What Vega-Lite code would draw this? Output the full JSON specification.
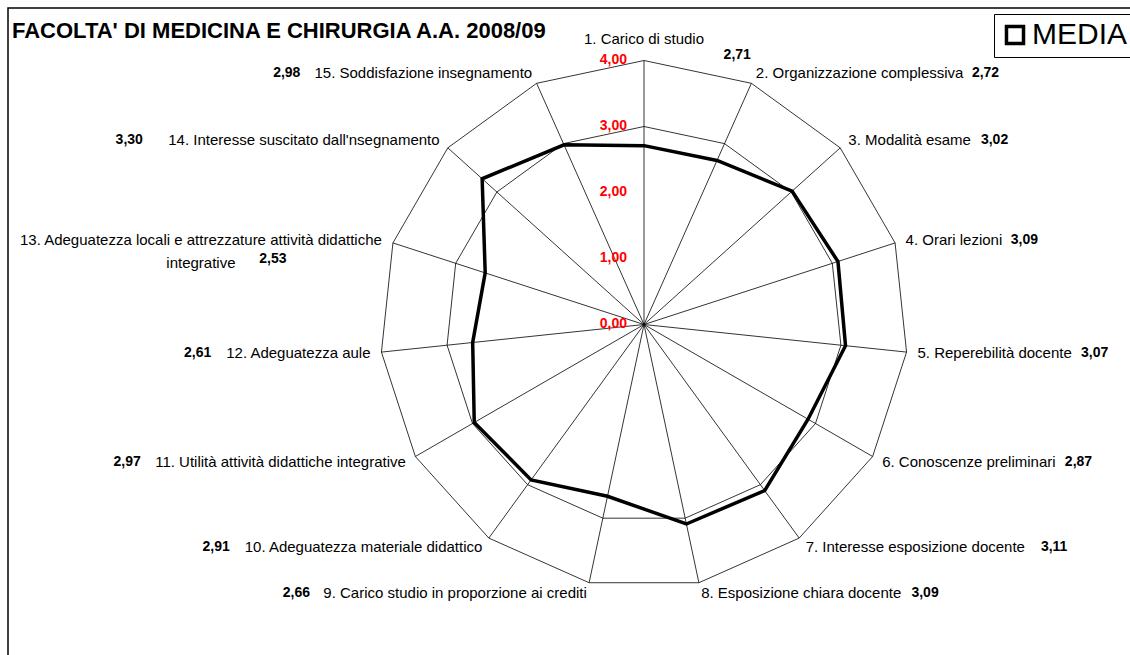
{
  "$schema": "https://vega.github.io/schema/vega-lite/v6.json",
  "width": 1130,
  "height": 660,
  "autosize": {"type": "none"},
  "padding": {"left": 8, "top": 8, "right": 0, "bottom": 0},
  "background": "white",
  "title": {
    "text": "FACOLTA' DI MEDICINA E CHIRURGIA A.A. 2008/09",
    "anchor": "start",
    "frame": "group",
    "font": "Liberation Sans",
    "fontSize": 22,
    "fontWeight": "bold",
    "color": "black",
    "offset": 0,
    "dx": 4,
    "dy": 52,
    "baseline": "alphabetic"
  },
  "config": {
    "view": {"stroke": "black", "strokeWidth": 1.5},
    "font": "Liberation Sans"
  },
  "data": {
    "values": [
      {"i": 1, "label": "1. Carico di studio", "value": 2.71},
      {"i": 2, "label": "2. Organizzazione complessiva", "value": 2.72},
      {"i": 3, "label": "3. Modalità esame", "value": 3.02},
      {"i": 4, "label": "4. Orari lezioni", "value": 3.09},
      {"i": 5, "label": "5. Reperebilità docente", "value": 3.07},
      {"i": 6, "label": "6. Conoscenze preliminari", "value": 2.87},
      {"i": 7, "label": "7. Interesse esposizione docente", "value": 3.11},
      {"i": 8, "label": "8. Esposizione chiara docente", "value": 3.09},
      {"i": 9, "label": "9. Carico studio in proporzione ai crediti", "value": 2.66},
      {"i": 10, "label": "10. Adeguatezza materiale didattico", "value": 2.91},
      {"i": 11, "label": "11. Utilità attività didattiche integrative", "value": 2.97},
      {"i": 12, "label": "12. Adeguatezza aule", "value": 2.61},
      {"i": 13, "label": "13. Adeguatezza locali e attrezzature attività didattiche\nintegrative", "value": 2.53},
      {"i": 14, "label": "14. Interesse suscitato dall'nsegnamento", "value": 3.30},
      {"i": 15, "label": "15. Soddisfazione insegnamento", "value": 2.98}
    ]
  },
  "encoding": {
    "x": {"field": "x", "type": "quantitative", "scale": {"domain": [-9.6364, 7.4848], "nice": false, "zero": false}, "axis": null},
    "y": {"field": "y", "type": "quantitative", "scale": {"domain": [-5.2045, 4.7955], "nice": false, "zero": false}, "axis": null}
  },
  "layer": [
    {
      "transform": [
        {"calculate": "(datum.i - 1) * 2 * PI / 15", "as": "t"},
        {"calculate": "0", "as": "x"},
        {"calculate": "0", "as": "y"},
        {"calculate": "4 * sin(datum.t)", "as": "x2"},
        {"calculate": "4 * cos(datum.t)", "as": "y2"}
      ],
      "mark": {"type": "rule", "stroke": "black", "strokeWidth": 0.8},
      "encoding": {"x2": {"field": "x2"}, "y2": {"field": "y2"}}
    },
    {
      "transform": [
        {"calculate": "(datum.i - 1) * 2 * PI / 15", "as": "t"},
        {"calculate": "4 * sin(datum.t)", "as": "x"},
        {"calculate": "4 * cos(datum.t)", "as": "y"}
      ],
      "mark": {"type": "line", "interpolate": "linear-closed", "stroke": "black", "strokeWidth": 0.8},
      "encoding": {"order": {"field": "i", "type": "quantitative"}}
    },
    {
      "transform": [
        {"calculate": "(datum.i - 1) * 2 * PI / 15", "as": "t"},
        {"calculate": "3 * sin(datum.t)", "as": "x"},
        {"calculate": "3 * cos(datum.t)", "as": "y"}
      ],
      "mark": {"type": "line", "interpolate": "linear-closed", "stroke": "black", "strokeWidth": 0.8},
      "encoding": {"order": {"field": "i", "type": "quantitative"}}
    },
    {
      "transform": [
        {"calculate": "(datum.i - 1) * 2 * PI / 15", "as": "t"},
        {"calculate": "datum.value * sin(datum.t)", "as": "x"},
        {"calculate": "datum.value * cos(datum.t)", "as": "y"}
      ],
      "mark": {"type": "line", "interpolate": "linear-closed", "strokeWidth": 3.5, "strokeJoin": "miter"},
      "encoding": {
        "order": {"field": "i", "type": "quantitative"},
        "stroke": {
          "datum": "MEDIA",
          "type": "nominal",
          "scale": {"range": ["black"]},
          "legend": {
            "title": null,
            "orient": "none",
            "legendX": 986,
            "legendY": 6,
            "symbolType": "square",
            "symbolSize": 290,
            "symbolStrokeWidth": 3.5,
            "symbolFillColor": "white",
            "symbolStrokeColor": "black",
            "labelFont": "Liberation Sans",
            "labelFontSize": 30,
            "labelColor": "black",
            "labelOffset": 2,
            "labelLimit": 400,
            "strokeColor": "black",
            "padding": 6
          }
        }
      }
    },
    {
      "transform": [
        {"filter": "datum.i >= 2 && datum.i <= 8"},
        {"calculate": "(datum.i - 1) * 2 * PI / 15", "as": "t"},
        {"calculate": "(4 + 11/66) * sin(datum.t)", "as": "x"},
        {"calculate": "(4 + 11/66) * cos(datum.t)", "as": "y"}
      ],
      "mark": {"type": "text", "align": "left", "baseline": "middle", "fontSize": 15, "font": "Liberation Sans", "color": "black"},
      "encoding": {"text": {"field": "label"}}
    },
    {
      "transform": [
        {"filter": "(datum.i >= 9 && datum.i <= 12) || datum.i >= 14"},
        {"calculate": "(datum.i - 1) * 2 * PI / 15", "as": "t"},
        {"calculate": "(4 + 11/66) * sin(datum.t)", "as": "x"},
        {"calculate": "(4 + 11/66) * cos(datum.t)", "as": "y"}
      ],
      "mark": {"type": "text", "align": "right", "baseline": "middle", "fontSize": 15, "font": "Liberation Sans", "color": "black"},
      "encoding": {"text": {"field": "label"}}
    },
    {
      "transform": [
        {"filter": "datum.i == 1"},
        {"calculate": "0", "as": "x"},
        {"calculate": "4 + 17/66", "as": "y"}
      ],
      "mark": {"type": "text", "align": "center", "baseline": "alphabetic", "fontSize": 15, "font": "Liberation Sans", "color": "black"},
      "encoding": {"text": {"field": "label"}}
    },
    {
      "transform": [
        {"filter": "datum.i == 13"},
        {"calculate": "(datum.i - 1) * 2 * PI / 15", "as": "t"},
        {"calculate": "(4 + 11/66) * sin(datum.t) - (indexof(datum.label, '\\n') * 6.3 / 2 + 2) / 66", "as": "x"},
        {"calculate": "(4 + 11/66) * cos(datum.t)", "as": "y"}
      ],
      "mark": {"type": "text", "align": "center", "baseline": "middle", "lineBreak": "\n", "lineHeight": 23, "fontSize": 15, "font": "Liberation Sans", "color": "black"},
      "encoding": {"text": {"field": "label"}}
    },
    {
      "transform": [
        {"filter": "datum.i >= 2 && datum.i <= 8"},
        {"calculate": "(datum.i - 1) * 2 * PI / 15", "as": "t"},
        {"calculate": "15 * (0.556*length(datum.label) - 0.334*(length(datum.label)-length(replace(datum.label, regexp('[ilj]','g'), ''))) - 0.278*(length(datum.label)-length(replace(datum.label, regexp('[tf .,/]','g'), ''))) - 0.223*(length(datum.label)-length(replace(datum.label, regexp('r','g'), ''))) - 0.056*(length(datum.label)-length(replace(datum.label, regexp('[sczkvxy]','g'), ''))) + 0.277*(length(datum.label)-length(replace(datum.label, regexp('[mM]','g'), ''))) + 0.12*(length(datum.label)-length(replace(datum.label, regexp('[A-LN-Z]','g'), ''))))", "as": "w"},
        {"calculate": "(4 + 11/66) * sin(datum.t) + (datum.w + 10) / 66", "as": "x"},
        {"calculate": "(4 + 11/66) * cos(datum.t)", "as": "y"},
        {"calculate": "replace(format(datum.value, '.2f'), '.', ',')", "as": "vtxt"}
      ],
      "mark": {"type": "text", "align": "left", "baseline": "middle", "fontSize": 14, "fontWeight": "bold", "font": "Liberation Sans", "color": "black"},
      "encoding": {"text": {"field": "vtxt"}}
    },
    {
      "transform": [
        {"filter": "(datum.i >= 9 && datum.i <= 12) || datum.i >= 14"},
        {"calculate": "(datum.i - 1) * 2 * PI / 15", "as": "t"},
        {"calculate": "15 * (0.556*length(datum.label) - 0.334*(length(datum.label)-length(replace(datum.label, regexp('[ilj]','g'), ''))) - 0.278*(length(datum.label)-length(replace(datum.label, regexp('[tf .,/]','g'), ''))) - 0.223*(length(datum.label)-length(replace(datum.label, regexp('r','g'), ''))) - 0.056*(length(datum.label)-length(replace(datum.label, regexp('[sczkvxy]','g'), ''))) + 0.277*(length(datum.label)-length(replace(datum.label, regexp('[mM]','g'), ''))) + 0.12*(length(datum.label)-length(replace(datum.label, regexp('[A-LN-Z]','g'), ''))))", "as": "w"},
        {"calculate": "(4 + 11/66) * sin(datum.t) - (datum.w + 14) / 66", "as": "x"},
        {"calculate": "(4 + 11/66) * cos(datum.t)", "as": "y"},
        {"calculate": "replace(format(datum.value, '.2f'), '.', ',')", "as": "vtxt"}
      ],
      "mark": {"type": "text", "align": "right", "baseline": "middle", "fontSize": 14, "fontWeight": "bold", "font": "Liberation Sans", "color": "black"},
      "encoding": {"text": {"field": "vtxt"}}
    },
    {
      "transform": [
        {"filter": "datum.i == 1"},
        {"calculate": "(length(datum.label) * 6.8 / 2 + 15) / 66", "as": "x"},
        {"calculate": "4 + 6/66", "as": "y"},
        {"calculate": "replace(format(datum.value, '.2f'), '.', ',')", "as": "vtxt"}
      ],
      "mark": {"type": "text", "align": "left", "baseline": "middle", "fontSize": 14, "fontWeight": "bold", "font": "Liberation Sans", "color": "black"},
      "encoding": {"text": {"field": "vtxt"}}
    },
    {
      "transform": [
        {"filter": "datum.i == 13"},
        {"calculate": "(datum.i - 1) * 2 * PI / 15", "as": "t"},
        {"calculate": "(4 + 11/66) * sin(datum.t) - (indexof(datum.label, '\\n') * 6.3 / 2 + 2) / 66 + ((length(datum.label) - indexof(datum.label, '\\n') - 1) * 6.6 / 2 + 22) / 66", "as": "x"},
        {"calculate": "(4 + 11/66) * cos(datum.t) - 19/66", "as": "y"},
        {"calculate": "replace(format(datum.value, '.2f'), '.', ',')", "as": "vtxt"}
      ],
      "mark": {"type": "text", "align": "left", "baseline": "middle", "fontSize": 14, "fontWeight": "bold", "font": "Liberation Sans", "color": "black"},
      "encoding": {"text": {"field": "vtxt"}}
    },
    {
      "data": {"values": [{"v": 0}, {"v": 1}, {"v": 2}, {"v": 3}, {"v": 4}]},
      "transform": [
        {"calculate": "0", "as": "x"},
        {"calculate": "datum.v", "as": "y"},
        {"calculate": "replace(format(datum.v, '.2f'), '.', ',')", "as": "vtxt"}
      ],
      "mark": {"type": "text", "align": "right", "baseline": "middle", "dx": -17, "dy": -1, "fontSize": 14, "fontWeight": "bold", "font": "Liberation Sans", "color": "#ff0000"},
      "encoding": {"text": {"field": "vtxt"}}
    }
  ]
}
